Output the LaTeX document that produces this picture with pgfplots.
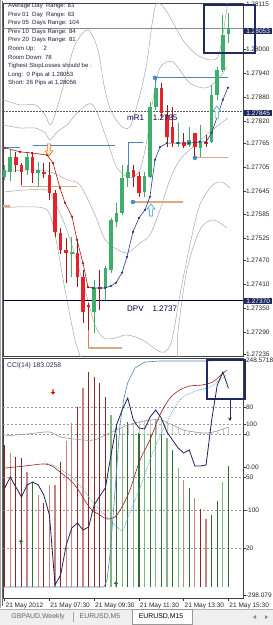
\documentclass[border=0pt]{standalone}
\usepackage{fontspec}
\setmainfont{Liberation Sans}
\usepackage{pgfplots}
\pgfplotsset{compat=1.18}
\usepackage{pgfplotstable}
\usetikzlibrary{arrows.meta}

\definecolor{cgreen}{HTML}{3FAE6A}
\definecolor{cred}{HTML}{E8202A}
\definecolor{cwickred}{HTML}{A01818}
\definecolor{navy}{HTML}{1F2A5E}
\definecolor{bandgray}{HTML}{A8A8A8}
\definecolor{steel}{HTML}{4A86B8}
\definecolor{tanl}{HTML}{DBA882}
\definecolor{dotblue}{HTML}{3D8FE6}
\definecolor{qblue}{HTML}{2B3F7A}
\definecolor{qred}{HTML}{B01515}
\definecolor{hdred}{HTML}{8E2424}
\definecolor{hlred}{HTML}{C98282}
\definecolor{hdgreen}{HTML}{2F6F34}
\definecolor{hlgreen}{HTML}{7FB585}
\definecolor{tabbg}{HTML}{EFEFEF}
\definecolor{txt}{HTML}{202040}
\definecolor{hatchc}{HTML}{C4C4C4}

\pgfdeclareplotmark{hup}{%
 \pgfpathmoveto{\pgfpoint{0pt}{6pt}}%
 \pgfpathlineto{\pgfpoint{4pt}{1pt}}%
 \pgfpathlineto{\pgfpoint{1.7pt}{1pt}}%
 \pgfpathlineto{\pgfpoint{1.7pt}{-6pt}}%
 \pgfpathlineto{\pgfpoint{-1.7pt}{-6pt}}%
 \pgfpathlineto{\pgfpoint{-1.7pt}{1pt}}%
 \pgfpathlineto{\pgfpoint{-4pt}{1pt}}%
 \pgfpathclose\pgfusepathqfillstroke}
\pgfdeclareplotmark{hdn}{%
 \pgfpathmoveto{\pgfpoint{0pt}{-6pt}}%
 \pgfpathlineto{\pgfpoint{4pt}{-1pt}}%
 \pgfpathlineto{\pgfpoint{1.7pt}{-1pt}}%
 \pgfpathlineto{\pgfpoint{1.7pt}{6pt}}%
 \pgfpathlineto{\pgfpoint{-1.7pt}{6pt}}%
 \pgfpathlineto{\pgfpoint{-1.7pt}{-1pt}}%
 \pgfpathlineto{\pgfpoint{-4pt}{-1pt}}%
 \pgfpathclose\pgfusepathqfillstroke}
\pgfdeclareplotmark{sup}{%
 \pgfpathmoveto{\pgfpoint{0pt}{2.6pt}}%
 \pgfpathlineto{\pgfpoint{2.3pt}{0pt}}%
 \pgfpathlineto{\pgfpoint{0.7pt}{0pt}}%
 \pgfpathlineto{\pgfpoint{0.7pt}{-2.6pt}}%
 \pgfpathlineto{\pgfpoint{-0.7pt}{-2.6pt}}%
 \pgfpathlineto{\pgfpoint{-0.7pt}{0pt}}%
 \pgfpathlineto{\pgfpoint{-2.3pt}{0pt}}%
 \pgfpathclose\pgfusepathqfill}
\pgfdeclareplotmark{sdn}{%
 \pgfpathmoveto{\pgfpoint{0pt}{-2.6pt}}%
 \pgfpathlineto{\pgfpoint{2.3pt}{0pt}}%
 \pgfpathlineto{\pgfpoint{0.7pt}{0pt}}%
 \pgfpathlineto{\pgfpoint{0.7pt}{2.6pt}}%
 \pgfpathlineto{\pgfpoint{-0.7pt}{2.6pt}}%
 \pgfpathlineto{\pgfpoint{-0.7pt}{0pt}}%
 \pgfpathlineto{\pgfpoint{-2.3pt}{0pt}}%
 \pgfpathclose\pgfusepathqfill}

\pgfplotsset{
  bars/.style 2 args={draw=none, mark=none, forget plot,
    error bars/.cd, y dir=plus, y explicit, error mark=none,
    error bar style={draw=#1, solid, line width=#2}},
}

\pgfplotstableread{
k O H L C
0 1.27680 1.27710 1.27673 1.27698
1 1.27693 1.27748 1.27670 1.27730
4 1.27698 1.27743 1.27685 1.27730
6 1.27690 1.27718 1.27655 1.27698
12 1.27486 1.27529 1.27429 1.27492
16 1.27341 1.27421 1.27288 1.27401
18 1.27401 1.27456 1.27371 1.27451
19 1.27446 1.27577 1.27439 1.27572
20 1.27567 1.27615 1.27554 1.27590
21 1.27590 1.27710 1.27585 1.27678
22 1.27678 1.27710 1.27655 1.27693
25 1.27642 1.27693 1.27630 1.27683
26 1.27680 1.27869 1.27678 1.27856
27 1.27856 1.27929 1.27848 1.27904
31 1.27763 1.27816 1.27755 1.27768
33 1.27760 1.27806 1.27755 1.27773
35 1.27753 1.27811 1.27730 1.27768
37 1.27768 1.27911 1.27765 1.27886
38 1.27886 1.27957 1.27874 1.27949
39 1.27949 1.28087 1.27944 1.28037
40 1.28040 1.28092 1.28017 1.28053
}\greenc

\pgfplotstableread{
k O H L C
2 1.27730 1.27743 1.27693 1.27710
3 1.27710 1.27715 1.27660 1.27693
5 1.27730 1.27743 1.27665 1.27690
7 1.27693 1.27715 1.27678 1.27688
8 1.27685 1.27718 1.27622 1.27640
9 1.27640 1.27647 1.27529 1.27542
10 1.27539 1.27552 1.27486 1.27497
11 1.27497 1.27527 1.27414 1.27489
13 1.27489 1.27522 1.27403 1.27429
14 1.27429 1.27446 1.27313 1.27341
15 1.27358 1.27363 1.27295 1.27353
17 1.27403 1.27446 1.27346 1.27399
23 1.27698 1.27710 1.27655 1.27680
24 1.27683 1.27693 1.27630 1.27640
28 1.27904 1.27916 1.27828 1.27841
29 1.27836 1.27861 1.27755 1.27781
30 1.27806 1.27856 1.27755 1.27765
32 1.27768 1.27791 1.27753 1.27758
34 1.27791 1.27791 1.27730 1.27755
36 1.27768 1.27786 1.27755 1.27763
}\redc

\pgfplotstableread{
k v
0 51.1
2 23.2
3 20.9
7 -83.8
10 11.6
13 139.5
15 221.0
16 209.3
17 195.3
18 162.8
35 -97.7
}\hdr
\pgfplotstableread{
k v
1 32.5
4 -11.7
6 -65.2
8 -41.9
9 -41.9
11 60.4
12 102.3
14 183.7
32 -30.3
34 -72.1
36 -121.0
}\hlr
\pgfplotstableread{
k v
5 -34.9
20 97.7
22 104.6
24 79.0
26 104.6
28 93.0
30 39.5
33 -48.9
37 -111.7
38 -79.1
40 2.3
}\hdg
\pgfplotstableread{
k v
19 120.9
21 93.0
23 90.7
25 97.7
27 109.3
29 67.4
31 -2.4
39 -34.9
}\hlg

\pgfplotstableread{
k g
20 86.0
21 91.9
22 97.7
23 101.2
24 104.6
25 107.0
26 109.3
27 109.3
28 109.3
29 103.5
30 97.7
31 91.9
32 86.0
33 83.7
34 81.4
35 80.2
36 79.0
37 81.4
38 83.7
39 88.4
40 93.0
}\hatch

\begin{document}
\begin{tikzpicture}
\useasboundingbox (0,0) rectangle (273pt,-625pt);
\fill[white] (0,0) rectangle (273pt,-625pt);

% ---------------- main price panel ----------------
\begin{axis}[
  at={(3pt,-356pt)}, anchor=south west, scale only axis,
  width=240pt, height=353pt,
  xmin=-0.3, xmax=42.6, ymin=1.27230, ymax=1.28117,
  xtick=\empty,
  ytick={1.27235,1.27290,1.27350,1.27410,1.27470,1.27525,1.27585,1.27645,1.27705,1.27765,1.27820,1.27880,1.27940,1.28000,1.28115},
  yticklabels={1.27235,1.27290,1.27350,1.27410,1.27470,1.27525,1.27585,1.27645,1.27705,1.27765,1.27820,1.27880,1.27940,1.28000,1.28115},
  ytick pos=right, yticklabel pos=right, tick align=outside,
  major tick length=2.5pt,
  tick style={black!80, line width=0.5pt},
  yticklabel style={font=\fontsize{6.5}{7}\selectfont, text=black!85, xshift=-3pt},
  axis line style={draw=black!75, line width=0.6pt},
]
% bands
\addplot[bandgray, line width=0.5pt, smooth, tension=0.5] coordinates {
(-0.29,1.27874)(2.75,1.27861)(5.43,1.27861)(7.21,1.27836)(8.11,1.27811)(9.0,1.27836)(10.79,1.27924)(12.57,1.28012)(14.89,1.28050)(16.68,1.27999)(17.75,1.27911)(18.82,1.27853)(20.61,1.27811)(22.39,1.27806)(24.18,1.27886)(25.43,1.27969)(26.32,1.28062)(27.21,1.28117)(29.0,1.28095)(31.86,1.28024)(34.36,1.27987)(36.68,1.27974)(38.11,1.27982)(39.0,1.28037)(39.89,1.28120)};
\addplot[bandgray, line width=0.5pt, smooth, tension=0.5] coordinates {
(-0.29,1.27811)(2.75,1.27803)(5.43,1.27803)(7.21,1.27791)(8.11,1.27773)(9.36,1.27793)(11.14,1.27811)(13.46,1.27848)(15.79,1.27861)(18.29,1.27773)(20.07,1.27703)(22.39,1.27678)(24.18,1.27698)(25.43,1.27773)(26.5,1.27874)(27.75,1.27954)(30.07,1.27969)(33.11,1.27916)(36.14,1.27904)(38.46,1.27931)(39.71,1.27957)};
\addplot[bandgray, line width=0.5pt, smooth, tension=0.5] coordinates {
(-0.29,1.27693)(5.07,1.27698)(8.11,1.27693)(11.14,1.27673)(13.46,1.27660)(16.14,1.27585)(17.75,1.27527)(19.36,1.27504)(21.86,1.27489)(24.18,1.27514)(25.96,1.27534)(27.75,1.27597)(29.54,1.27673)(31.32,1.27723)(34.0,1.27760)(36.68,1.27793)(39.89,1.27828)};
\addplot[bandgray, line width=0.5pt, smooth, tension=0.5] coordinates {
(-0.29,1.27642)(3.64,1.27647)(7.57,1.27647)(9.0,1.27615)(10.79,1.27559)(12.57,1.27484)(14.36,1.27396)(16.14,1.27308)(17.75,1.27275)(19.71,1.27275)(21.86,1.27283)(24.71,1.27270)(27.21,1.27245)(28.64,1.27240)(29.89,1.27270)(31.32,1.27383)(33.11,1.27509)(34.89,1.27610)(37.21,1.27660)(38.82,1.27667)(40.25,1.27652)};
\addplot[bandgray, line width=0.5pt, smooth, tension=0.5] coordinates {
(-0.29,1.27602)(3.64,1.27605)(7.57,1.27597)(9.0,1.27534)(10.79,1.27396)(12.57,1.27270)(13.82,1.27215)(15.25,1.27119)(29.54,1.27119)(31.0,1.27295)(32.57,1.27446)(34.89,1.27547)(37.21,1.27572)(39.71,1.27552)};

% horizontal levels
\addplot[black!45, line width=0.5pt] coordinates {(-0.3,1.28053)(42.6,1.28053)};
\addplot[black!65, line width=0.6pt, dash pattern=on 1.5pt off 1.5pt] coordinates {(-0.3,1.27845)(42.6,1.27845)};
\addplot[black!80!blue, line width=1.3pt] coordinates {(-0.3,1.27370)(42.6,1.27370)};

% steel blue lines
\addplot[steel, line width=0.7pt] coordinates {(-0.29,1.27755)(2.75,1.27755)};
\addplot[steel, line width=0.7pt] coordinates {(5.07,1.27760)(19.71,1.27760)};
\addplot[steel, line width=0.7pt] coordinates {(22.04,1.27693)(22.04,1.27768)(24.71,1.27768)};
\addplot[steel, line width=0.7pt] coordinates {(26.86,1.27929)(39.89,1.27929)};
% tan lines
\addplot[tanl, line width=1.1pt] coordinates {(2.93,1.27655)(12.93,1.27655)};
\addplot[tanl, line width=1.1pt] coordinates {(-0.29,1.27607)(0.96,1.27607)};
\addplot[tanl, line width=1.1pt] coordinates {(22.93,1.27617)(31.86,1.27617)};
\addplot[tanl, line width=1.1pt] coordinates {(34.0,1.27728)(39.89,1.27728)};
\addplot[tanl!70!red, line width=0.8pt] coordinates {(14.89,1.27358)(14.89,1.27250)};
\addplot[tanl, line width=1.1pt] coordinates {(14.89,1.27250)(20.96,1.27250)};

% candles: wicks
\addplot[bars={cgreen}{0.8pt}] table[x=k, y=L, y error expr=\thisrow{H}-\thisrow{L}] {\greenc};
\addplot[bars={cwickred}{0.8pt}] table[x=k, y=L, y error expr=\thisrow{H}-\thisrow{L}] {\redc};
% candles: bodies
\addplot[bars={cgreen}{3.6pt}] table[x=k, y=O, y error expr=\thisrow{C}-\thisrow{O}] {\greenc};
\addplot[bars={cred}{3.6pt}] table[x=k, y=C, y error expr=\thisrow{O}-\thisrow{C}] {\redc};

% trailing dotted indicator
\addplot[qred, line width=0.6pt, mark=*, mark size=0.8pt, mark options={fill=qred, draw=qred}] coordinates {
(0.07,1.27753)(2.75,1.27743)(4.89,1.27740)(7.57,1.27735)(8.64,1.27715)(9.89,1.27652)(10.79,1.27615)(12.04,1.27580)(12.93,1.27522)(14.0,1.27463)(14.89,1.27403)(15.79,1.27401)};
\addplot[qblue, line width=0.6pt, mark=*, mark size=0.8pt, mark options={fill=qblue, draw=qblue}] coordinates {
(15.79,1.27401)(16.86,1.27401)(17.93,1.27401)(19.0,1.27406)(19.89,1.27414)(20.96,1.27439)(21.86,1.27479)(22.93,1.27542)(24.0,1.27577)(25.07,1.27597)(25.96,1.27630)(26.86,1.27723)(27.75,1.27755)(29.0,1.27765)(31.0,1.27765)(32.93,1.27765)(34.89,1.27768)(36.0,1.27768)(37.0,1.27791)(38.0,1.27831)(39.0,1.27874)(39.89,1.27904)};

% dots and arrows
\addplot[only marks, mark=*, mark size=2pt, mark options={fill=dotblue, draw=dotblue!80!black, line width=0.3pt}] coordinates {(22.93,1.27617)(34.0,1.27728)(26.86,1.27929)};
\addplot[only marks, mark=hdn, mark options={draw=orange!85!red, fill=orange!15, line width=0.6pt}] coordinates {(7.93,1.27748)};
\addplot[only marks, mark=hup, mark options={draw=steel!80!cyan, fill=white, line width=0.6pt}] coordinates {(26.14,1.27597)(37.93,1.27843)};
\end{axis}

% ---------------- CCI panel ----------------
\begin{axis}[
  at={(3pt,-598pt)}, anchor=south west, scale only axis,
  width=240pt, height=240pt,
  xmin=-0.3, xmax=42.6, ymin=-304.8, ymax=253.5,
  xtick={0,8,16,24,32,40},
  xticklabels={21 May 2012,21 May 07:30,21 May 09:30,21 May 11:30,21 May 13:30,21 May 15:30},
  xtick pos=bottom,
  xticklabel style={anchor=north west, font=\fontsize{6.5}{7}\selectfont, text=black!85, xshift=-2.5pt, yshift=1.5pt},
  ytick={-298.079,-188.4,-100,-23.3,0,76.7,100,139.5,248.5718},
  yticklabels={-298.079,20,-100,50,0.00,0,100,80,248.5718},
  ytick pos=right, yticklabel pos=right, tick align=outside,
  major tick length=2.5pt,
  tick style={black!80, line width=0.5pt},
  yticklabel style={font=\fontsize{6.5}{7}\selectfont, text=black!85, xshift=-3pt},
  axis line style={draw=black!75, line width=0.6pt},
]
% level lines
\addplot[black!40, dash pattern=on 2pt off 2pt, line width=0.5pt] coordinates {(-0.3,139.5)(42.6,139.5)};
\addplot[black!40, dash pattern=on 2pt off 2pt, line width=0.5pt] coordinates {(-0.3,100)(42.6,100)};
\addplot[black!40, dash pattern=on 2pt off 2pt, line width=0.5pt] coordinates {(-0.3,76.7)(42.6,76.7)};
\addplot[black!40, dash pattern=on 2pt off 2pt, line width=0.5pt] coordinates {(-0.3,-23.3)(42.6,-23.3)};
\addplot[black!40, dash pattern=on 2pt off 2pt, line width=0.5pt] coordinates {(-0.3,-100)(42.6,-100)};
\addplot[black!40, dash pattern=on 2pt off 2pt, line width=0.5pt] coordinates {(-0.3,-188.4)(42.6,-188.4)};

% histogram
\addplot[bars={hdred}{1.2pt}] table[x=k, y expr=-279.2, y error expr=\thisrow{v}+279.2] {\hdr};
\addplot[bars={hlred}{1.2pt}] table[x=k, y expr=-279.2, y error expr=\thisrow{v}+279.2] {\hlr};
\addplot[bars={hdgreen}{1.2pt}] table[x=k, y expr=-279.2, y error expr=\thisrow{v}+279.2] {\hdg};
\addplot[bars={hlgreen}{1.2pt}] table[x=k, y expr=-279.2, y error expr=\thisrow{v}+279.2] {\hlg};

% gray hatch + curve
\addplot[bars={hatchc}{0.4pt}] table[x=k, y expr=76.7, y error expr=\thisrow{g}-76.7] {\hatch};
\addplot[black!40, line width=0.6pt, smooth] coordinates {
(0,72.1)(4,76.7)(8,81.4)(10,69.7)(14,62.8)(16,62.8)(18,74.4)(20,86.0)(22,97.7)(24,104.6)(26,109.3)(28,109.3)(30,97.7)(32,86.0)(34,81.4)(36,79.0)(38,83.7)(40,93.0)};

% steel blue line
\addplot[steel!80!gray, line width=0.6pt] coordinates {
(-0.29,-279.2)(17.75,-279.2)(18.29,-262.9)(18.82,-204.7)(19.54,-88.4)(20.07,4.6)(20.61,97.7)(21.32,160.5)(22.04,197.7)(23.29,230.2)(25.07,244.2)(27.75,246.5)(36.14,246.5)(39.89,248.8)};
% red signal line
\addplot[hdred!90!red, line width=0.6pt, smooth] coordinates {
(0.07,-2.4)(3.64,2.3)(6.86,7.0)(8.46,2.3)(9.89,-11.7)(11.68,-30.3)(12.93,-48.9)(15.25,-95.4)(17.04,-111.7)(18.29,-121.0)(19.71,-116.3)(20.96,-93.1)(22.39,-53.5)(24.18,16.2)(25.96,62.8)(27.75,120.9)(29.54,160.5)(31.32,179.1)(33.11,188.4)(35.25,190.7)(37.21,197.7)(38.46,211.6)(39.71,225.6)};
% cyan dotted line
\addplot[cyan!60!gray, line width=0.7pt, dash pattern=on 1pt off 1pt, smooth] coordinates {
(7.21,9.3)(9.0,2.3)(10.79,-11.7)(12.57,-30.3)(14.36,-58.2)(16.14,-88.4)(17.93,-111.7)(19.18,-128.0)(20.25,-141.9)(21.14,-146.6)(22.39,-104.7)(24.18,-48.9)(26.5,34.8)(29.0,104.6)(31.32,155.8)(33.64,174.4)(36.68,186.0)(38.46,202.3)(39.71,213.9)};
% CCI line
\addplot[navy!90!black, line width=0.8pt] coordinates {
(0,-48.9)(1,-23.3)(2,-46.6)(3,-69.8)(4,-41.9)(5,-34.9)(6,-41.9)(7,-65.2)(8,-111.7)(9,-274.5)(10,-251.2)(11,-181.5)(12,-141.9)(13,-130.3)(14,-146.6)(15,-139.6)(16,-88.4)(17,-67.5)(18,-48.9)(19,27.9)(20,97.7)(21,132.5)(22,160.5)(23,109.3)(24,90.7)(25,88.4)(26,116.3)(27,132.5)(28,113.9)(29,81.4)(30,62.8)(31,44.2)(32,32.5)(33,39.5)(34,2.3)(35,2.3)(36,4.6)(37,109.3)(38,190.7)(39,220.9)(40,183.03)};
% arrows
\addplot[only marks, mark=sdn, mark options={fill=red!85!black}] coordinates {(8.64,174.4)};
\addplot[only marks, mark=sup, mark options={fill=hdgreen}] coordinates {(2.93,-174.5)(19.89,-272)};
\end{axis}

% window border
\draw[black!35, line width=0.8pt] (0.6pt,0) -- (0.6pt,-608pt);
\draw[black!60, line width=0.5pt] (2.2pt,-1pt) -- (2.2pt,-606pt);

% info text
\begin{scope}[every node/.style={anchor=west, font=\fontsize{6}{7}\selectfont, text=txt, inner sep=0pt}]
\node at (8pt,-6pt) {Average Day~~Range: 83};
\node at (8pt,-14.6pt) {Prev 01~~Day~~Range: 63};
\node at (8pt,-23.2pt) {Prev 05~~Days Range: 104};
\node at (8pt,-31.8pt) {Prev 10~~Days Range: 84};
\node at (8pt,-40.4pt) {Prev 20~~Days Range: 81};
\node at (8pt,-49pt) {Room Up:~~~~~2};
\node at (8pt,-57.6pt) {Room Down: 78};
\node at (8pt,-66.2pt) {Tighest StopLosses should be :};
\node at (8pt,-74.8pt) {Long:~~0 Pips at 1.28053};
\node at (8pt,-83.4pt) {Short: 26 Pips at 1.28056};
\end{scope}
\node[anchor=west, font=\fontsize{8}{9}\selectfont, text=black!70!blue, inner sep=0pt] at (127pt,-118pt) {mR1~~~~1.2785};
\node[anchor=west, font=\fontsize{8}{9}\selectfont, text=black!70!blue, inner sep=0pt] at (127pt,-308.5pt) {DPV~~~~1.2737};
\node[anchor=west, font=\fontsize{6.8}{7}\selectfont, text=navy, inner sep=0pt] at (7pt,-366pt) {CCI(14) 183.0258};

% highlighted price labels
\begin{scope}[every node/.style={anchor=west, fill=navy, text=white, font=\fontsize{6.5}{7}\selectfont, inner xsep=1pt, inner ysep=1pt, minimum width=28pt}]
\node at (244pt,-31pt) {1.28053};
\node at (244pt,-113pt) {1.27845};
\node at (244pt,-301pt) {1.27370};
\end{scope}

% boxes and arrow
\draw[navy, line width=1.3pt] (204pt,-5pt) rectangle (255pt,-53pt);
\draw[navy, line width=1.3pt] (207pt,-360pt) rectangle (245pt,-399pt);
\draw[navy, line width=1pt, -{Stealth[length=3.5pt,width=3.5pt]}] (230pt,-399pt) -- (230pt,-421pt);

% tab bar
\fill[tabbg] (0,-609pt) rectangle (273pt,-625pt);
\draw[black!30] (0,-609pt) -- (273pt,-609pt);
\filldraw[fill=white, draw=black!40] (132pt,-609pt) rectangle (192pt,-624pt);
\draw[black!35] (73pt,-612pt) -- (73pt,-622pt);
\node[font=\fontsize{6.9}{8}\selectfont, text=black!60] at (38pt,-617pt) {GBPAUD,Weekly};
\node[font=\fontsize{6.9}{8}\selectfont, text=black!60] at (100pt,-617pt) {EURUSD,M5};
\node[font=\fontsize{6.9}{8}\selectfont, text=black] at (161pt,-617pt) {EURUSD,M15};
\fill[black!45] (253pt,-617pt) -- (256pt,-615pt) -- (256pt,-619pt) -- cycle;
\fill[black!45] (268pt,-617pt) -- (265pt,-615pt) -- (265pt,-619pt) -- cycle;
\end{tikzpicture}
\end{document}
